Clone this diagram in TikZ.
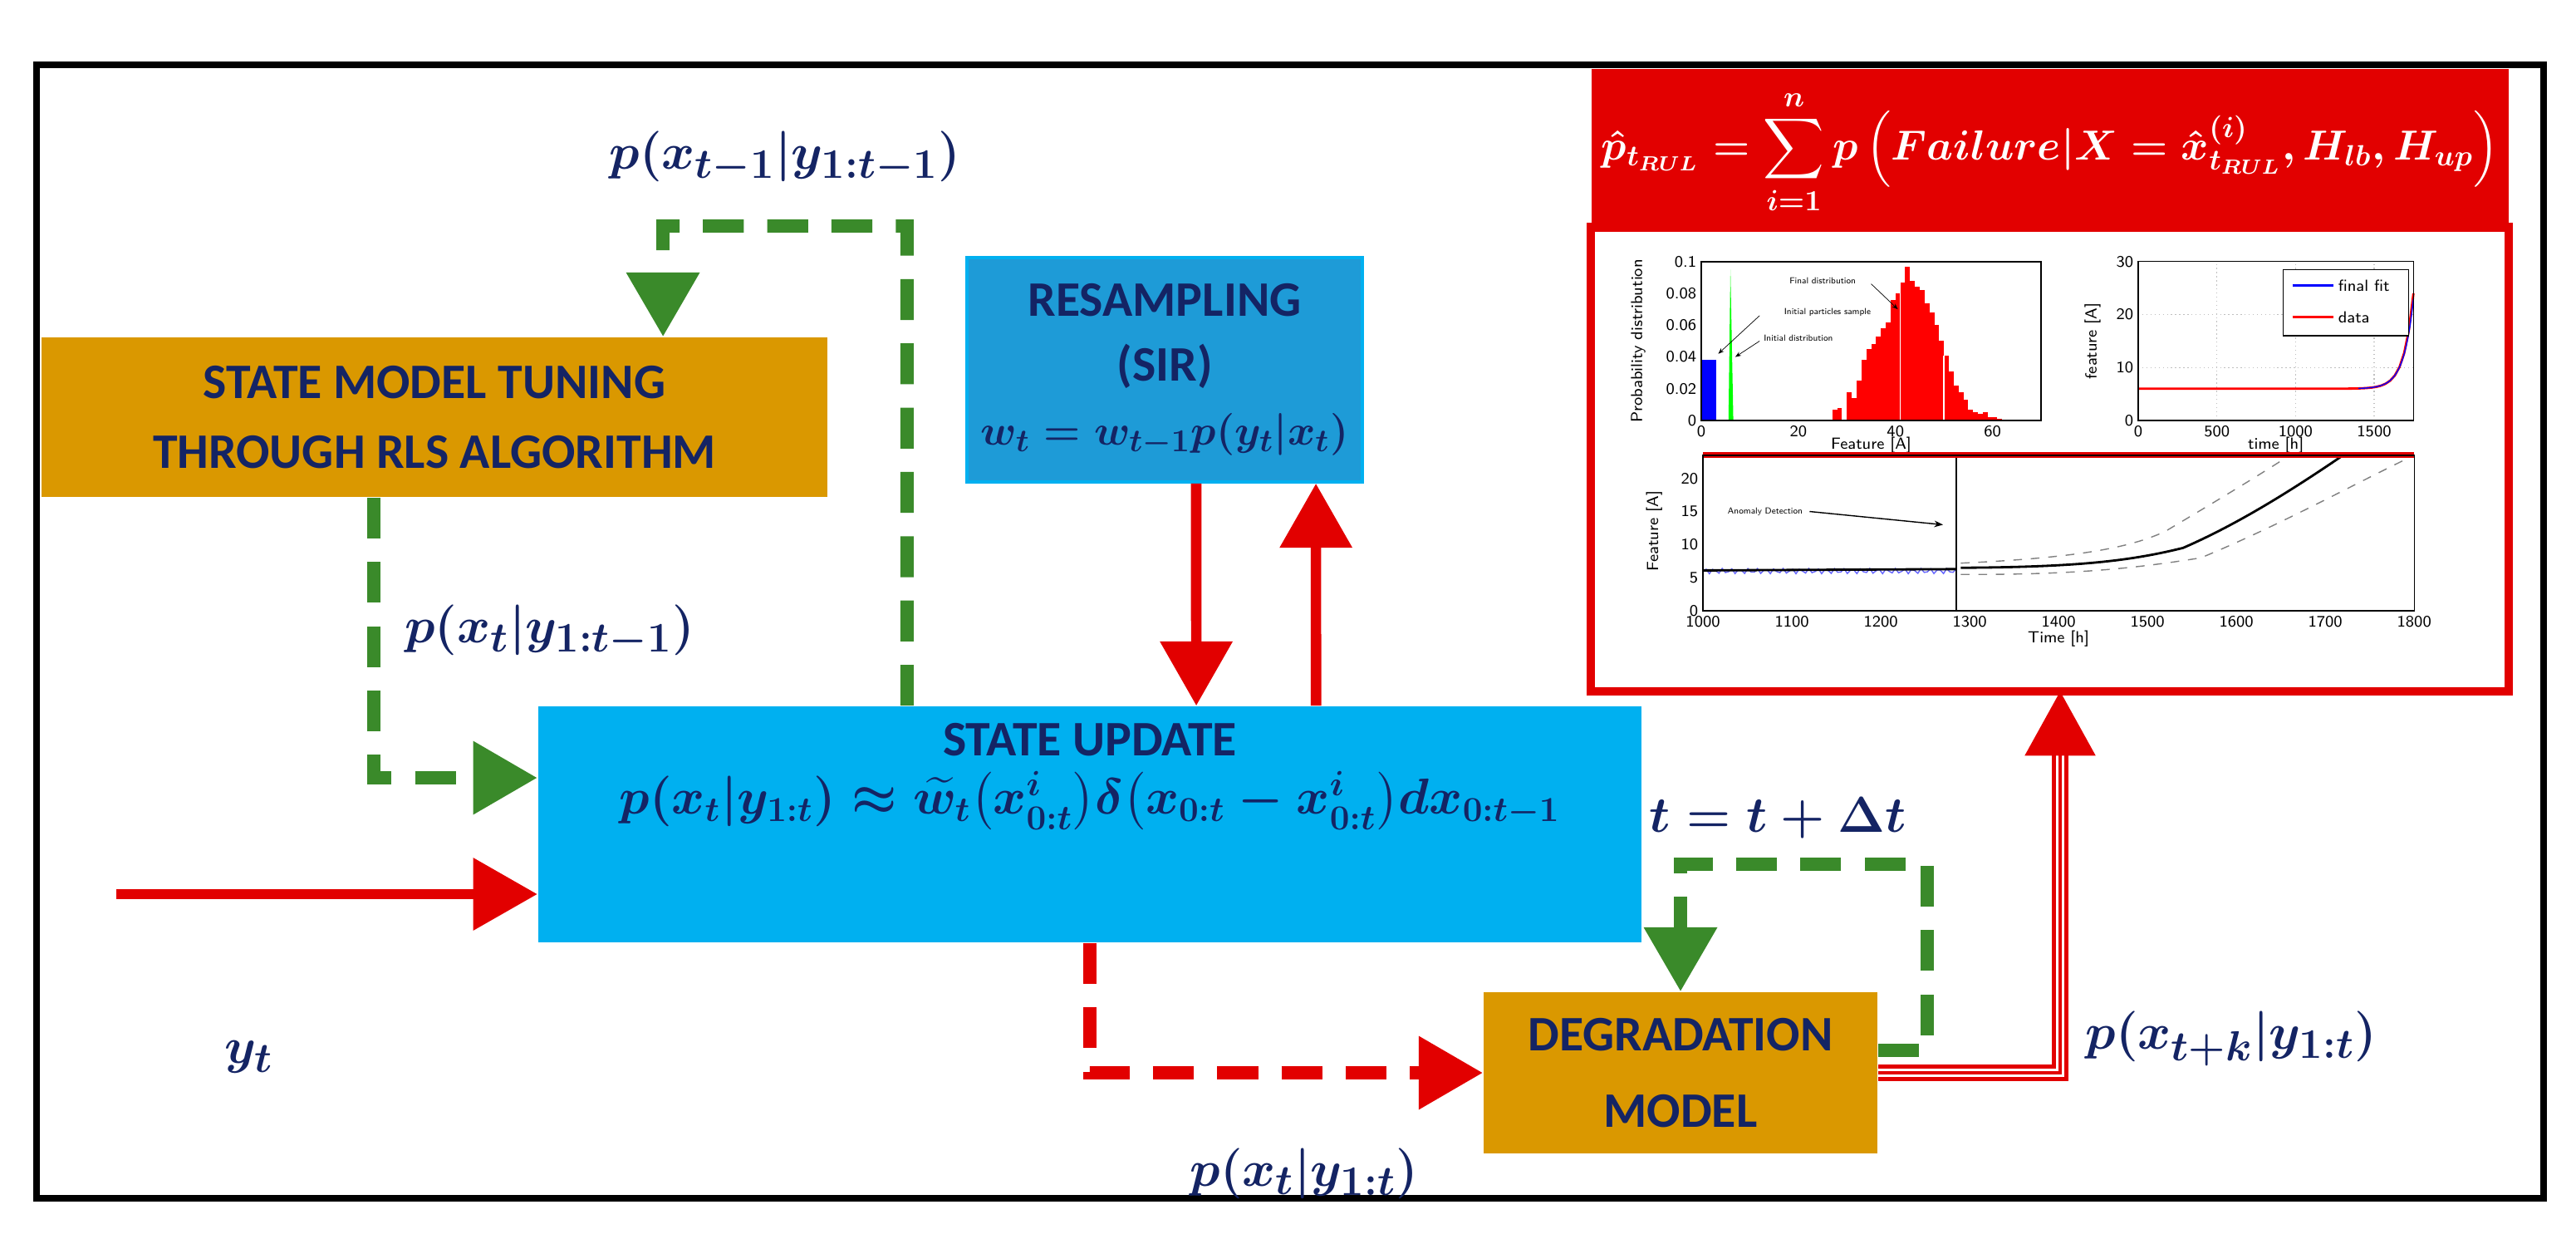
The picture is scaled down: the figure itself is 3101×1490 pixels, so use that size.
\documentclass[tikz,border=0pt]{standalone}
\usepackage{fontspec}
\setmainfont{Carlito}
\usepackage{amsmath,amssymb,bm}
\usepackage{xcolor}
\usetikzlibrary{arrows.meta,positioning,calc}
\definecolor{navy}{RGB}{20,36,100}
\definecolor{ochre}{RGB}{218,152,0}
\definecolor{resblue}{RGB}{30,155,215}
\definecolor{updblue}{RGB}{0,176,240}
\definecolor{dgreen}{RGB}{58,138,42}
\definecolor{fred}{RGB}{226,0,0}
\tikzset{
  blk/.style = {draw = none, font = \fontsize{17}{22}\selectfont\bfseries, text = navy, align = center, inner sep = 0pt},
  lbl/.style = {text = navy, font = \fontsize{19}{24}\selectfont\boldmath},
  gdash/.style = {dgreen, line width = 4.5pt, dash pattern = on 14pt off 8pt, -{Triangle[length=22pt,width=24pt]}},
  rdash/.style = {fred, line width = 4.5pt, dash pattern = on 14pt off 8pt, -{Triangle[length=22pt,width=24pt]}},
  rsolid/.style = {fred, line width = 3.6pt, -{Triangle[length=22pt,width=24pt]}},
  tick/.style = {font = \fontsize{5.5}{6}\selectfont\sffamily, inner sep = 1.5pt}
}
\begin{document}
\begin{tikzpicture}[x = 0.01cm, y = -0.01cm]
  \useasboundingbox (0,0) rectangle (3101,1490);
  \draw[line width = 2.2pt] (44,78) rectangle (3062,1442);
  % blocks
  \node[blk, fill = ochre, minimum width = 9.46cm, minimum height = 1.92cm] (tune) at (523,502) {STATE MODEL TUNING\\[2pt]THROUGH RLS ALGORITHM};
  \node[blk, fill = resblue, draw = updblue, line width = 1pt, minimum width = 4.76cm, minimum height = 2.7cm] (res) at (1402,445) {RESAMPLING\\(SIR)\\{\fontsize{15}{18}\selectfont\boldmath$w_t = w_{t-1}p(y_t|x_t)$}};
  \node[blk, fill = updblue, minimum width = 13.28cm, minimum height = 2.84cm] (upd) at (1312,992) {};
  \node[blk, anchor = north] at ($(upd.north)+(0,20)$) {STATE UPDATE\\[-2pt]{\fontsize{16.5}{20}\selectfont\boldmath$p(x_t|y_{1:t}) \approx \widetilde{w}_t\big(x^i_{0:t}\big)\delta\big(x_{0:t}-x^i_{0:t}\big)dx_{0:t-1}$}};
  \node[blk, fill = ochre, minimum width = 4.74cm, minimum height = 1.94cm] (deg) at (2023,1291) {DEGRADATION\\[4pt]MODEL};
  % prognosis panel
  \node[fill = fred, minimum width = 11.04cm, minimum height = 1.9cm, inner sep = 0pt] (head) at (2468,178) {};
  \node[text = white, font = \fontsize{14.5}{18}\selectfont\boldmath] at ([yshift=-0.05cm]head) {$\hat p_{t_{RUL}} = \displaystyle\sum_{i=1}^{n} p\left(Failure|X = \hat x^{(i)}_{t_{RUL}}, H_{lb}, H_{up}\right)$};
  \draw[fred, line width = 3pt] (head.south west) rectangle (3020,832);
  \coordinate (pin) at (2480,832);
  % histogram
  \begin{scope}[shift = {(2048,506)}, x = 0.0584cm, y = 19.1cm]
    \fill[blue] (0,0) rectangle (3,0.038);
    \fill[green] (5.6,0) -- (6,0.095) -- (6.6,0) -- cycle;
    \foreach \v/\h in {27/0.007,28/0.008,30/0.018,31/0.014,32/0.025,33/0.038,34/0.045,35/0.048,36/0.053,37/0.058,38/0.062,39/0.076,40/0.08,41/0.087,42/0.097,43/0.088,44/0.084,45/0.082,46/0.074,47/0.068,48/0.06,49/0.05,50/0.041,51/0.031,52/0.022,53/0.018,54/0.013,55/0.007,56/0.005,57/0.004,58/0.005,59/0.002,60/0.002,61/0.001}
      \fill[red] (\v,0) rectangle (\v+1,\h);
    \draw[white, thin] (41,0) -- (41,0.08) (50,0) -- (50,0.041);
    \draw[thin] (0,0) rectangle (70,0.1);
    \foreach \v in {0,20,40,60} \node[tick, below] at (\v,0) {\v};
    \foreach \v in {0,0.02,0.04,0.06,0.08,0.1} \node[tick, left] at (0,\v) {\v};
    \node[tick, below = 4pt] at (35,0) {Feature [A]};
    \node[tick, rotate = 90] at (-13,0.05) {Probability distribution};
    \node[font = \fontsize{3}{3}\selectfont\sffamily] at (25,0.088) {Final distribution};
    \node[font = \fontsize{3}{3}\selectfont\sffamily] at (26,0.068) {Initial particles sample};
    \node[font = \fontsize{3}{3}\selectfont\sffamily] at (20,0.052) {Initial distribution};
    \draw[-{Stealth[length=2pt]}, very thin] (35,0.086) -- (40.5,0.07);
    \draw[-{Stealth[length=2pt]}, very thin] (12,0.066) -- (3.5,0.042);
    \draw[-{Stealth[length=2pt]}, very thin] (12,0.05) -- (7,0.04);
  \end{scope}
  % fit plot
  \begin{scope}[shift = {(2574,506)}, x = 0.001886cm, y = 0.0637cm]
    \foreach \v in {500,1000,1500} \draw[gray!50, densely dotted] (\v,0) -- (\v,30);
    \foreach \v in {10,20} \draw[gray!50, densely dotted] (0,\v) -- (1750,\v);
    \draw[red, line width = 0.8pt, domain = 0:1750, samples = 60] plot (\x, {6+18*exp((\x-1750)/60)});
    \draw[blue, domain = 1400:1750, samples = 30] plot (\x, {6+17*exp((\x-1750)/62)});
    \draw[thin] (0,0) rectangle (1750,30);
    \draw[fill = white, thin] (920,16) rectangle (1720,28.5);
    \draw[blue, thick] (980,25.5) -- (1240,25.5); \node[tick, anchor = west] at (1240,25.5) {final fit};
    \draw[red, thick] (980,19.5) -- (1240,19.5); \node[tick, anchor = west] at (1240,19.5) {data};
    \foreach \v in {0,500,1000,1500} \node[tick, below] at (\v,0) {\v};
    \foreach \v in {0,10,20,30} \node[tick, left] at (0,\v) {\v};
    \node[tick, below = 4pt] at (875,0) {time [h]};
    \node[tick, rotate = 90] at (-290,15) {feature [A]};
  \end{scope}
  % prognosis plot
  \begin{scope}[shift = {(2050,735)}, x = 0.0107cm, y = 0.0796cm]
    \draw[blue!60] plot[domain = 0:285, samples = 80] (\x, {6+0.4*sin(\x*37)});
    \draw[thick] (0,6.1) -- (285,6.3);
    \draw[thick] (290,6.5) .. controls (420,6.6) and (480,7.5) .. (540,9.5) .. controls (600,13) and (660,18) .. (720,23.5);
    \draw[gray, dashed] (290,7.2) .. controls (420,8) and (480,9.5) .. (520,12) .. controls (570,16) and (620,20) .. (660,23.5);
    \draw[gray, dashed] (290,5.5) .. controls (420,5.4) and (490,6.5) .. (560,8) .. controls (650,13) and (730,19) .. (800,23.5);
    \draw[thin] (285,0) -- (285,23.5);
    \draw[fred, line width = 2pt] (0,23.5) -- (800,23.5);
    \draw[thin] (0,0) rectangle (800,23.5);
    \draw[-{Stealth[length=3pt]}, thin] (120,15) -- (270,13);
    \node[font = \fontsize{3}{3}\selectfont\sffamily] at (70,15) {Anomaly Detection};
    \foreach \v in {0,...,8} \node[tick, below] at (\v*100,0) {\the\numexpr1000+\v*100\relax};
    \foreach \v in {0,5,10,15,20} \node[tick, left] at (0,\v) {\v};
    \node[tick, below = 5pt] at (400,0) {Time [h]};
    \node[tick, rotate = 90] at (-55,12) {Feature [A]};
  \end{scope}
  % connectors
  \coordinate (yin) at (140,1076);
  \draw[rsolid] (yin) -- (yin -| upd.west);
  \node[lbl] (yt) at (300,1272) {$y_t$};
  \draw[gdash] ([xshift=-0.73cm]tune.south) |- ($(upd.west)+(0,-56)$);
  \node[lbl, anchor = west] (lp1) at (475,760) {$p(x_t|y_{1:t-1})$};
  \coordinate (gtop) at (798,272);
  \draw[gdash] ([xshift=-2.2cm]upd.north) |- (gtop) -- ([xshift=2.75cm]tune.north);
  \node[lbl] (lp2) at (945,190) {$p(x_{t-1}|y_{1:t-1})$};
  \draw[rsolid] ([xshift=0.38cm]res.south) -- ([xshift=1.28cm]upd.north);
  \draw[rsolid] ([xshift=2.72cm]upd.north) -- ([xshift=1.82cm]res.south);
  \draw[rdash] (upd.south) |- (deg.west);
  \node[lbl] (lp3) at (1570,1412) {$p(x_t|y_{1:t})$};
  \coordinate (gloop) at (2320,1040);
  \draw[gdash] ($(deg.east)+(0,-27)$) -| (gloop) -| (deg.north);
  \node[lbl, font = \fontsize{17}{20}\selectfont\boldmath] (lt) at (2140,984) {$t = t + \Delta t$};
  \draw[fred, line width = 1.3pt, double = white, double distance = 3pt, -{Triangle[length=22pt,width=24pt]}] (deg.east) -| (pin);
  \draw[fred, line width = 1.2pt] (deg.east) -| ([yshift=-0.4cm]pin);
  \node[lbl] (lp4) at (2686,1250) {$p(x_{t+k}|y_{1:t})$};
\end{tikzpicture}
\end{document}
